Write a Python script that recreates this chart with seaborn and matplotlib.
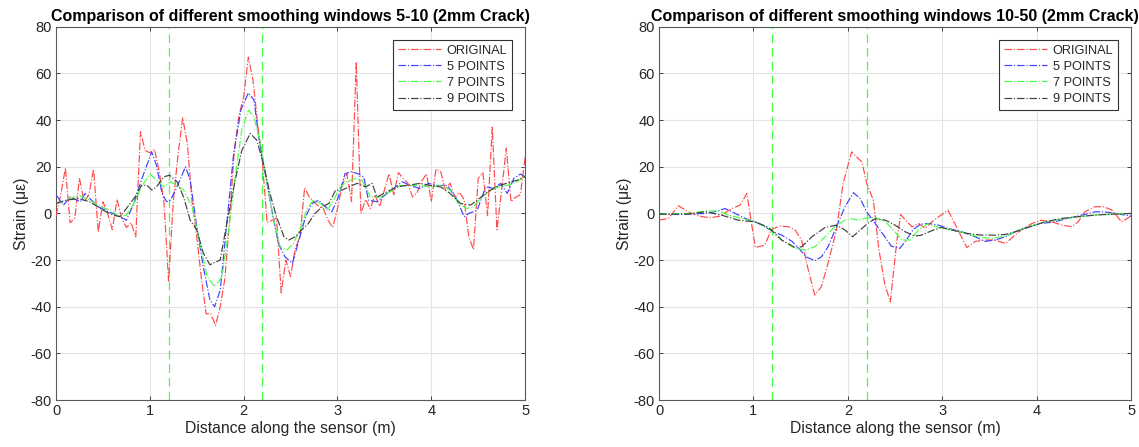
import numpy as np
import pandas as pd
import matplotlib
matplotlib.use("Agg")
import matplotlib.pyplot as plt
import seaborn as sns
from matplotlib.lines import Line2D

# ---------------- Left panel (windows 5-10) ----------------
left_orig_x = np.round(np.arange(101) * 0.05, 2)
left_orig_y = [-1, 8, 19.5, -4, -2, 15, 5, 8, 19, -8,
               5, 0, -7, 6, -2, -6, -4, -10, 35, 27,
               26, 27.5, 18, 5, -29, 5, 25, 41, 30, 5,
               -10, -28, -43, -43, -48, -40, -28, -3, 27, 42,
               50, 67, 57, 38, 22, -4, -3, -2, -34, -20,
               -27, -15, -10, 11, 7, 5, 3, 2, -3, -6,
               2, 12, 17, 5, 65, 0, 6, 2, 8, 3,
               10, 17, 8, 17.5, 15, 13, 7, 9, 14, 17,
               5, 19, 18, 10, 13, 7, 9, 6, -10, -15.5,
               15, 17.5, -1, 37, -7, 10, 28, 5, 7, 8, 24]

left_p5_x = [0, 0.08, 0.15, 0.26, 0.31, 0.36, 0.45, 0.56, 0.65, 0.75, 0.83, 0.91, 1.02, 1.07,
             1.13, 1.18, 1.22, 1.29, 1.38, 1.43, 1.50, 1.57, 1.64, 1.69, 1.75, 1.82, 1.89, 1.97,
             2.05, 2.11, 2.16, 2.23, 2.30, 2.37, 2.44, 2.52, 2.59, 2.66, 2.73, 2.80, 2.87, 2.94,
             3.01, 3.08, 3.15, 3.22, 3.28, 3.33, 3.42, 3.53, 3.69, 3.77, 3.88, 3.97, 4.06, 4.17,
             4.26, 4.35, 4.40, 4.49, 4.58, 4.67, 4.74, 4.81, 4.88, 4.95, 5.0]
left_p5_y = [7.9, 3.6, 7, 5, 8.6, 6.4, 2.9, 0.7, -0.7, -2.9, 4.3, 14.3, 26.4, 20.7,
             8.6, 5, 5.7, 11.4, 20, 14.3, -5.7, -22.9, -37, -40, -33, -4.3, 24.3, 44.3,
             51.7, 48.6, 32.9, 17, 1.4, -12.9, -18.6, -21.4, -11.4, -1.4, 4.3, 5.7, 2.9, 0.7,
             7, 17, 17.9, 17, 15.7, 5.7, 5, 8.6, 13.6, 12, 10.7, 12.9, 12, 12,
             7, -1.4, 0, 1.4, 11.4, 10.7, 12.9, 8.6, 15, 16.9, 15.7]

left_p7_x = [0, 0.11, 0.24, 0.36, 0.47, 0.58, 0.67, 0.75, 0.84, 0.91, 1.0, 1.07, 1.15, 1.22,
             1.29, 1.36, 1.45, 1.52, 1.61, 1.69, 1.77, 1.84, 1.91, 1.98, 2.05, 2.11, 2.18, 2.25,
             2.32, 2.39, 2.46, 2.53, 2.60, 2.67, 2.74, 2.82, 2.89, 2.96, 3.03, 3.10, 3.19, 3.26,
             3.35, 3.46, 3.56, 3.67, 3.77, 3.88, 3.99, 4.10, 4.20, 4.29, 4.38, 4.45, 4.54, 4.63,
             4.72, 4.81, 4.92, 5.0]
left_p7_y = [4.3, 5.7, 7.9, 5.7, 2.9, 1.4, -1.4, -0.7, 5, 11.4, 16.9, 14.3, 11.4, 13.6,
             12, 10, 2.9, -10, -27, -31.4, -27, -7, 15.7, 35.7, 44.3, 41.4, 30, 12.9,
             -2.9, -14.3, -15.7, -12.9, -7, 1.4, 5.7, 4.3, 1.4, 5.7, 11.4, 13.6, 15, 14.3,
             7, 7, 9.3, 12, 12, 12, 11.4, 12, 10, 4.3, 2.1, 2.9, 7, 10,
             11.4, 12, 13.6, 16.4]

left_p9_x = [0, 0.11, 0.24, 0.36, 0.50, 0.61, 0.68, 0.75, 0.84, 0.91, 0.97, 1.02, 1.07, 1.15,
             1.21, 1.29, 1.36, 1.43, 1.50, 1.57, 1.64, 1.69, 1.75, 1.82, 1.91, 1.98, 2.07, 2.14,
             2.21, 2.28, 2.35, 2.43, 2.48, 2.55, 2.62, 2.69, 2.76, 2.84, 2.91, 2.98, 3.05, 3.12,
             3.21, 3.30, 3.37, 3.42, 3.53, 3.64, 3.74, 3.88, 3.99, 4.10, 4.20, 4.31, 4.42, 4.49,
             4.58, 4.69, 4.80, 4.92, 5.0]
left_p9_y = [4.3, 5.7, 6.4, 5, 1.4, -0.7, -1.4, 2.1, 7, 12, 12.1, 10, 11.4, 15.7,
             16.4, 13.6, 7, -2.9, -7, -17, -22, -21, -20, -4.3, 14.3, 27, 34.3, 31.4,
             21.4, 8.6, -1.4, -10, -11.4, -10, -7, -4.3, 0, 2.9, 4.3, 10, 10, 11.4,
             12.9, 11.4, 12.9, 7, 9.3, 11.4, 12, 12.9, 12, 11.4, 8.6, 4.3, 3.6, 5.7,
             8.6, 11.4, 12.9, 14.3, 15.7]

# ---------------- Right panel (windows 10-50) ----------------
right_orig_x = [0, 0.1, 0.205, 0.31, 0.42, 0.54, 0.65, 0.77, 0.86, 0.93, 1.02, 1.12, 1.19, 1.28,
                1.37, 1.44, 1.51, 1.58, 1.65, 1.72, 1.79, 1.88, 1.95, 2.04, 2.15, 2.20, 2.27, 2.33,
                2.39, 2.45, 2.52, 2.56, 2.61, 2.68, 2.75, 2.82, 2.87, 2.94, 3.06, 3.15, 3.26, 3.35,
                3.45, 3.56, 3.67, 3.75, 3.84, 3.95, 4.05, 4.16, 4.27, 4.37, 4.44, 4.51, 4.62, 4.71,
                4.80, 4.90, 5.0]
right_orig_y = [-2.9, -2.1, 3.3, 0.7, -1.1, -1.9, -1.1, 2.1, 3.6, 8.6, -14.6, -13.6, -6.9, -5.4,
                -5.7, -7, -11.4, -24, -35, -31.4, -21.4, -7, 12.9, 26.4, 22, 12.9, 5.7, -15.7,
                -30, -38, -11.4, -0.5, -2.9, -5.7, -4.3, -6.4, -4.3, -2.1, 1.4, -5.7, -14.6, -12,
                -11.4, -11.4, -12.9, -10, -7, -4.3, -2.9, -3.6, -5, -5.7, -3.6, 0.7, 2.9, 2.9,
                1.4, -3.6, -1.1]

right_p5_x = [0, 0.17, 0.31, 0.49, 0.59, 0.70, 0.81, 0.91, 1.02, 1.12, 1.21, 1.30, 1.41, 1.48,
              1.56, 1.65, 1.72, 1.79, 1.88, 1.97, 2.06, 2.13, 2.20, 2.29, 2.38, 2.46, 2.55, 2.62,
              2.69, 2.77, 2.85, 2.96, 3.06, 3.21, 3.35, 3.45, 3.56, 3.67, 3.77, 3.91, 4.05, 4.19,
              4.33, 4.48, 4.62, 4.72, 4.83, 5.0]
right_p5_y = [-0.3, -0.4, -0.3, 0, 0.7, 2.1, 0, -2.1, -3.6, -5.7, -7.9, -9.3, -12, -15,
              -18.6, -20.3, -18.6, -14.3, -5.7, 2.9, 8.9, 6.4, 0.7, -4.3, -9.3, -14, -15, -11.4,
              -7, -4.6, -4.3, -5, -6.4, -7.9, -10, -12, -11.4, -10, -7.9, -5.7, -4.3, -3.6,
              -2.1, -0.7, 0.7, 0.7, 0, -1.1]

right_p7_x = [0, 0.31, 0.49, 0.63, 0.73, 0.88, 1.02, 1.16, 1.30, 1.44, 1.55, 1.65, 1.76, 1.86,
              1.97, 2.04, 2.11, 2.18, 2.29, 2.40, 2.50, 2.57, 2.66, 2.75, 2.85, 2.96, 3.10, 3.24,
              3.38, 3.52, 3.67, 3.77, 3.91, 4.09, 4.27, 4.44, 4.62, 4.80, 5.0]
right_p7_y = [-0.3, 0, 1, 1.1, -0.7, -2.1, -3.6, -6.4, -11.4, -15, -15.7, -14.3, -10, -5.7,
              -2.9, -2.3, -2.9, -2.1, -1.7, -3.6, -7.9, -11.4, -11.4, -7, -4.3, -6, -7.1, -8.3,
              -10, -10.7, -9.7, -7.9, -5.7, -3.6, -2.4, -1.4, -0.7, -0.3, 0]

right_p9_x = [0, 0.31, 0.49, 0.66, 0.84, 1.02, 1.16, 1.30, 1.44, 1.51, 1.62, 1.76, 1.88, 1.97,
              2.05, 2.13, 2.22, 2.29, 2.40, 2.50, 2.61, 2.71, 2.78, 2.89, 2.99, 3.13, 3.27, 3.42,
              3.56, 3.67, 3.77, 3.91, 4.09, 4.27, 4.44, 4.62, 4.80, 5.0]
right_p9_y = [-0.3, -0.3, 0.7, -0.7, -2.9, -3.6, -6, -11.4, -14.6, -14.3, -10, -6, -5, -7.1,
              -10, -7.1, -4, -2.3, -2.9, -5, -7.9, -9.7, -9.3, -7.4, -6, -7.4, -8.6, -9.3,
              -9.3, -9, -7.9, -6, -3.6, -2.1, -1.4, -0.7, -0.3, 0]

titles = ["Comparison of different smoothing windows 5-10 (2mm Crack)",
          "Comparison of different smoothing windows 10-50 (2mm Crack)"]
labels = ["ORIGINAL", "5 POINTS", "7 POINTS", "9 POINTS"]
crack_lines = [1.2, 2.2]
x_ticks = [0, 1, 2, 3, 4, 5]
y_ticks = [-80, -60, -40, -20, 0, 20, 40, 60, 80]

colors = ["#ff4a4a", "#4040ff", "#44ff44", "#404040"]

sns.set_style("white")
plt.rcParams["font.family"] = ["Liberation Sans", "DejaVu Sans"]
plt.rcParams["axes.unicode_minus"] = False

fig = plt.figure(figsize=(11.39, 4.47), dpi=100)
ax1 = fig.add_axes([0.0492, 0.105, 0.4118, 0.835])
ax2 = fig.add_axes([0.5786, 0.105, 0.4144, 0.835])

panels = [
    (ax1, [(left_orig_x, left_orig_y), (left_p5_x, left_p5_y),
           (left_p7_x, left_p7_y), (left_p9_x, left_p9_y)]),
    (ax2, [(right_orig_x, right_orig_y), (right_p5_x, right_p5_y),
           (right_p7_x, right_p7_y), (right_p9_x, right_p9_y)]),
]

grey = "#262626"
for k, (ax, series) in enumerate(panels):
    ax.set_xlim(0, 5)
    ax.set_ylim(-80, 80)
    ax.set_xticks(x_ticks)
    ax.set_yticks(y_ticks)
    ax.grid(True, color="#e3e3e3", linewidth=0.8)
    ax.set_axisbelow(True)
    for xv in crack_lines:
        ax.axvline(xv, color="#44ff44", linestyle=(0, (7, 4)), linewidth=0.9, zorder=1)
    for (xs, ys), lab, col in zip(series, labels, colors):
        df = pd.DataFrame({"x": xs, "y": ys})
        sns.lineplot(data=df, x="x", y="y", ax=ax, color=col, linewidth=0.85,
                     linestyle="-.", estimator=None, sort=False, label=lab, zorder=3)
    ax.set_xlabel("Distance along the sensor (m)", fontsize=11.3, color=grey, labelpad=2)
    ax.set_ylabel("Strain (με)", fontsize=11.3, color=grey, labelpad=1)
    ax.set_title(titles[k], fontsize=11.5, fontweight="bold", color="black", pad=4)
    ax.tick_params(direction="in", length=3, width=0.6, colors=grey, labelsize=10.5,
                   top=True, right=True, bottom=True, left=True, pad=3)
    for sp in ax.spines.values():
        sp.set_visible(True)
        sp.set_color("#5a5a5a")
        sp.set_linewidth(0.8)
    handles = [Line2D([0], [0], color=c, linestyle="-.", linewidth=0.85) for c in colors]
    leg = ax.legend(handles, labels, loc="upper right", fontsize=9.2, frameon=True,
                    fancybox=False, framealpha=1, edgecolor="#333333",
                    handlelength=3.4, handletextpad=0.4, borderpad=0.4,
                    labelspacing=0.32, borderaxespad=1.0)
    leg.get_frame().set_linewidth(0.8)

fig.savefig("out.png", dpi=100)
